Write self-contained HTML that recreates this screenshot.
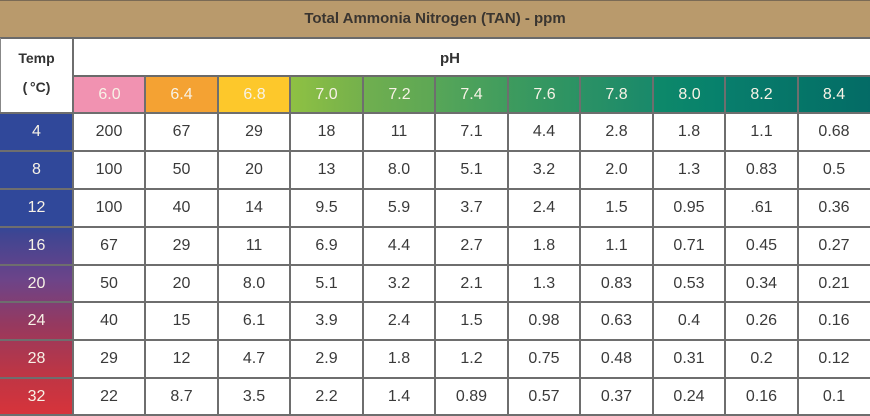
<!DOCTYPE html>
<html><head><meta charset="utf-8"><style>
*{margin:0;padding:0;box-sizing:border-box}
body{width:870px;height:416px;overflow:hidden;background:#fff;font-family:"Liberation Sans",sans-serif;position:relative}
.a{position:absolute}
.c{position:absolute;display:flex;align-items:center;justify-content:center;font-size:16px;color:#3a3a3a}
.w{color:#f7f2e6}
.hl{position:absolute;left:0;width:870px;height:2px;background:#6e6e6e}
.vl{position:absolute;width:2px;background:#6e6e6e}
</style></head><body>
<div class="a" style="left:0;top:0;width:870px;height:37px;background:#b99a6c;border-top:1px solid #7a6a55"></div>
<div class="c" style="left:0;top:0;width:870px;height:37px;font-weight:bold;font-size:15px;color:#3a3530">Total Ammonia Nitrogen (TAN) - ppm</div>
<div class="a" style="left:0;top:37px;width:870px;height:1.5px;background:#6a6a6a"></div>
<div class="a" style="left:0;top:38px;width:1px;height:75px;background:#888"></div>
<div class="c" style="left:0;top:44px;width:73px;height:28px;font-weight:bold;font-size:14px;color:#333">Temp</div>
<div class="c" style="left:0;top:73px;width:73px;height:28px;font-weight:bold;font-size:14px;color:#333">(&thinsp;°C)</div>
<div class="c" style="left:420px;top:44px;width:60px;height:28px;font-weight:bold;font-size:15px;color:#333">pH</div>

<!-- pH header cells -->
<div class="c w" style="left:73px;top:76px;width:73px;height:37px;background:#f192b1">6.0</div>
<div class="c w" style="left:145px;top:76px;width:73px;height:37px;background:#f4a233">6.4</div>
<div class="c w" style="left:218px;top:76px;width:73px;height:37px;background:#fdc82b">6.8</div>
<div class="c w" style="left:290px;top:76px;width:73px;height:37px;background:linear-gradient(90deg,#8fc143,#74b04c)">7.0</div>
<div class="c w" style="left:363px;top:76px;width:73px;height:37px;background:linear-gradient(90deg,#70af4f,#5da755)">7.2</div>
<div class="c w" style="left:435px;top:76px;width:73px;height:37px;background:linear-gradient(90deg,#57a658,#409c5e)">7.4</div>
<div class="c w" style="left:508px;top:76px;width:73px;height:37px;background:linear-gradient(90deg,#3e9b5e,#2a9264)">7.6</div>
<div class="c w" style="left:580px;top:76px;width:73px;height:37px;background:linear-gradient(90deg,#2c9265,#19896a)">7.8</div>
<div class="c w" style="left:653px;top:76px;width:73px;height:37px;background:linear-gradient(90deg,#0e896a,#06806c)">8.0</div>
<div class="c w" style="left:725px;top:76px;width:73px;height:37px;background:linear-gradient(90deg,#087e6c,#067468)">8.2</div>
<div class="c w" style="left:798px;top:76px;width:72px;height:37px;background:linear-gradient(90deg,#057668,#046b66)">8.4</div>

<!-- temp column -->
<div class="a" style="left:0;top:113px;width:73px;height:303px;background:linear-gradient(180deg,#30489a 0%,#30489a 37%,#3f4592 40%,#6c4489 55%,#96395f 70%,#bb3646 85%,#d8333a 100%)"></div>
<div class="c w" style="left:0;top:113px;width:73px;height:38px">4</div>
<div class="c w" style="left:0;top:151px;width:73px;height:38px">8</div>
<div class="c w" style="left:0;top:189px;width:73px;height:38px">12</div>
<div class="c w" style="left:0;top:227px;width:73px;height:38px">16</div>
<div class="c w" style="left:0;top:265px;width:73px;height:38px">20</div>
<div class="c w" style="left:0;top:302px;width:73px;height:38px">24</div>
<div class="c w" style="left:0;top:340px;width:73px;height:38px">28</div>
<div class="c w" style="left:0;top:378px;width:73px;height:38px">32</div>

<!-- grid lines -->
<div class="a" style="left:73px;top:75px;width:797px;height:1.5px;background:#6a6a6a"></div>
<div class="hl" style="top:112px"></div>
<div class="hl" style="top:150px"></div>
<div class="hl" style="top:188px"></div>
<div class="hl" style="top:226px"></div>
<div class="hl" style="top:264px"></div>
<div class="hl" style="top:301px"></div>
<div class="hl" style="top:339px"></div>
<div class="hl" style="top:377px"></div>
<div class="hl" style="top:414px"></div>
<div class="vl" style="left:72px;top:38px;height:378px"></div>
<div class="vl" style="left:144px;top:76px;height:340px"></div>
<div class="vl" style="left:217px;top:76px;height:340px"></div>
<div class="vl" style="left:289px;top:76px;height:340px"></div>
<div class="vl" style="left:362px;top:76px;height:340px"></div>
<div class="vl" style="left:434px;top:76px;height:340px"></div>
<div class="vl" style="left:507px;top:76px;height:340px"></div>
<div class="vl" style="left:579px;top:76px;height:340px"></div>
<div class="vl" style="left:652px;top:76px;height:340px"></div>
<div class="vl" style="left:724px;top:76px;height:340px"></div>
<div class="vl" style="left:797px;top:76px;height:340px"></div>

<!-- data -->
<div class="c" style="left:73px;top:113px;width:72px;height:38px">200</div><div class="c" style="left:145px;top:113px;width:73px;height:38px">67</div><div class="c" style="left:218px;top:113px;width:72px;height:38px">29</div><div class="c" style="left:290px;top:113px;width:73px;height:38px">18</div><div class="c" style="left:363px;top:113px;width:72px;height:38px">11</div><div class="c" style="left:435px;top:113px;width:73px;height:38px">7.1</div><div class="c" style="left:508px;top:113px;width:72px;height:38px">4.4</div><div class="c" style="left:580px;top:113px;width:73px;height:38px">2.8</div><div class="c" style="left:653px;top:113px;width:72px;height:38px">1.8</div><div class="c" style="left:725px;top:113px;width:73px;height:38px">1.1</div><div class="c" style="left:798px;top:113px;width:72px;height:38px">0.68</div>
<div class="c" style="left:73px;top:151px;width:72px;height:38px">100</div><div class="c" style="left:145px;top:151px;width:73px;height:38px">50</div><div class="c" style="left:218px;top:151px;width:72px;height:38px">20</div><div class="c" style="left:290px;top:151px;width:73px;height:38px">13</div><div class="c" style="left:363px;top:151px;width:72px;height:38px">8.0</div><div class="c" style="left:435px;top:151px;width:73px;height:38px">5.1</div><div class="c" style="left:508px;top:151px;width:72px;height:38px">3.2</div><div class="c" style="left:580px;top:151px;width:73px;height:38px">2.0</div><div class="c" style="left:653px;top:151px;width:72px;height:38px">1.3</div><div class="c" style="left:725px;top:151px;width:73px;height:38px">0.83</div><div class="c" style="left:798px;top:151px;width:72px;height:38px">0.5</div>
<div class="c" style="left:73px;top:189px;width:72px;height:38px">100</div><div class="c" style="left:145px;top:189px;width:73px;height:38px">40</div><div class="c" style="left:218px;top:189px;width:72px;height:38px">14</div><div class="c" style="left:290px;top:189px;width:73px;height:38px">9.5</div><div class="c" style="left:363px;top:189px;width:72px;height:38px">5.9</div><div class="c" style="left:435px;top:189px;width:73px;height:38px">3.7</div><div class="c" style="left:508px;top:189px;width:72px;height:38px">2.4</div><div class="c" style="left:580px;top:189px;width:73px;height:38px">1.5</div><div class="c" style="left:653px;top:189px;width:72px;height:38px">0.95</div><div class="c" style="left:725px;top:189px;width:73px;height:38px">.61</div><div class="c" style="left:798px;top:189px;width:72px;height:38px">0.36</div>
<div class="c" style="left:73px;top:227px;width:72px;height:38px">67</div><div class="c" style="left:145px;top:227px;width:73px;height:38px">29</div><div class="c" style="left:218px;top:227px;width:72px;height:38px">11</div><div class="c" style="left:290px;top:227px;width:73px;height:38px">6.9</div><div class="c" style="left:363px;top:227px;width:72px;height:38px">4.4</div><div class="c" style="left:435px;top:227px;width:73px;height:38px">2.7</div><div class="c" style="left:508px;top:227px;width:72px;height:38px">1.8</div><div class="c" style="left:580px;top:227px;width:73px;height:38px">1.1</div><div class="c" style="left:653px;top:227px;width:72px;height:38px">0.71</div><div class="c" style="left:725px;top:227px;width:73px;height:38px">0.45</div><div class="c" style="left:798px;top:227px;width:72px;height:38px">0.27</div>
<div class="c" style="left:73px;top:265px;width:72px;height:37px">50</div><div class="c" style="left:145px;top:265px;width:73px;height:37px">20</div><div class="c" style="left:218px;top:265px;width:72px;height:37px">8.0</div><div class="c" style="left:290px;top:265px;width:73px;height:37px">5.1</div><div class="c" style="left:363px;top:265px;width:72px;height:37px">3.2</div><div class="c" style="left:435px;top:265px;width:73px;height:37px">2.1</div><div class="c" style="left:508px;top:265px;width:72px;height:37px">1.3</div><div class="c" style="left:580px;top:265px;width:73px;height:37px">0.83</div><div class="c" style="left:653px;top:265px;width:72px;height:37px">0.53</div><div class="c" style="left:725px;top:265px;width:73px;height:37px">0.34</div><div class="c" style="left:798px;top:265px;width:72px;height:37px">0.21</div>
<div class="c" style="left:73px;top:302px;width:72px;height:38px">40</div><div class="c" style="left:145px;top:302px;width:73px;height:38px">15</div><div class="c" style="left:218px;top:302px;width:72px;height:38px">6.1</div><div class="c" style="left:290px;top:302px;width:73px;height:38px">3.9</div><div class="c" style="left:363px;top:302px;width:72px;height:38px">2.4</div><div class="c" style="left:435px;top:302px;width:73px;height:38px">1.5</div><div class="c" style="left:508px;top:302px;width:72px;height:38px">0.98</div><div class="c" style="left:580px;top:302px;width:73px;height:38px">0.63</div><div class="c" style="left:653px;top:302px;width:72px;height:38px">0.4</div><div class="c" style="left:725px;top:302px;width:73px;height:38px">0.26</div><div class="c" style="left:798px;top:302px;width:72px;height:38px">0.16</div>
<div class="c" style="left:73px;top:340px;width:72px;height:38px">29</div><div class="c" style="left:145px;top:340px;width:73px;height:38px">12</div><div class="c" style="left:218px;top:340px;width:72px;height:38px">4.7</div><div class="c" style="left:290px;top:340px;width:73px;height:38px">2.9</div><div class="c" style="left:363px;top:340px;width:72px;height:38px">1.8</div><div class="c" style="left:435px;top:340px;width:73px;height:38px">1.2</div><div class="c" style="left:508px;top:340px;width:72px;height:38px">0.75</div><div class="c" style="left:580px;top:340px;width:73px;height:38px">0.48</div><div class="c" style="left:653px;top:340px;width:72px;height:38px">0.31</div><div class="c" style="left:725px;top:340px;width:73px;height:38px">0.2</div><div class="c" style="left:798px;top:340px;width:72px;height:38px">0.12</div>
<div class="c" style="left:73px;top:378px;width:72px;height:37px">22</div><div class="c" style="left:145px;top:378px;width:73px;height:37px">8.7</div><div class="c" style="left:218px;top:378px;width:72px;height:37px">3.5</div><div class="c" style="left:290px;top:378px;width:73px;height:37px">2.2</div><div class="c" style="left:363px;top:378px;width:72px;height:37px">1.4</div><div class="c" style="left:435px;top:378px;width:73px;height:37px">0.89</div><div class="c" style="left:508px;top:378px;width:72px;height:37px">0.57</div><div class="c" style="left:580px;top:378px;width:73px;height:37px">0.37</div><div class="c" style="left:653px;top:378px;width:72px;height:37px">0.24</div><div class="c" style="left:725px;top:378px;width:73px;height:37px">0.16</div><div class="c" style="left:798px;top:378px;width:72px;height:37px">0.1</div>
</body></html>
